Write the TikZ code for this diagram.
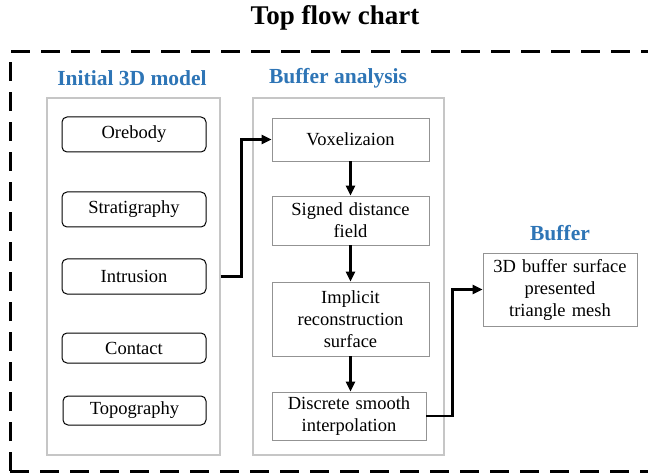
\documentclass[tikz,border=0pt]{standalone}
\usepackage{fontspec}
\setmainfont{Liberation Serif}
\usetikzlibrary{arrows.meta}
\definecolor{headblue}{RGB}{46,117,182}

\begin{document}
\begin{tikzpicture}[x=1pt, y=-1pt,
		item/.style={draw, rounded corners=5pt, line width=1pt, minimum width=144pt, minimum height=33pt, inner sep=2pt, font=\fontsize{18.5}{22}\selectfont},
		stage/.style={draw=gray!85, line width=0.8pt, text width=153pt, align=center, inner sep=2pt, font=\fontsize{18.5}{22}\selectfont},
		group/.style={draw=gray!45, line width=1.2pt, minimum width=173pt, minimum height=357pt},
		head/.style={text=headblue, font=\fontsize{21.5}{24}\selectfont\bfseries},
		flow/.style={->, line width=2.8pt}, >={Triangle[length=10pt,width=9pt]}]
					\useasboundingbox (0,0) rectangle (648,473);
					\node[font=\fontsize{27}{30}\selectfont\bfseries] (title) at (335,18) {Top flow chart};
					\draw[line width=3pt, dash pattern=on 19pt off 11pt] (10,471) -- (10,52) -- (680,52);
					\draw[line width=3pt, dash pattern=on 19pt off 11pt] (10,471) -- (680,471);
					% containers
					\node[group] (leftbox) at (133.5,276.5) {};
					\node[group, minimum width=191pt] (rightbox) at (348.5,276.5) {};
					\node[head] (modelhead) at (132,78) {Initial 3D model};
					\node[head] (analysishead) at (338,78) {Buffer analysis};
					\node[head] (bufferhead) at (560,233) {Buffer};
					% geological objects
					\node[item, minimum height=35pt] (orebody) at (134,134.5) {Orebody};
					\node[item, minimum height=35pt] (strat) at (134,209.5) {Stratigraphy};
					\node[item, minimum height=35pt] (intrusion) at (134,276.5) {Intrusion};
					\node[item, minimum height=30pt] (contact) at (134,348) {Contact};
					\node[item, minimum width=143pt, minimum height=29pt] (topo) at (134.5,410.5) {Topography};
					% buffer analysis steps
					\node[stage, minimum height=43pt] (vox) at (350.5,139.5) {Voxelizaion};
					\node[stage, minimum height=49pt] (sdf) at (350.5,220.5) {Signed distance\\field};
					\node[stage, minimum height=74pt] (irs) at (350.5,319) {Implicit\\reconstruction\\surface};
					\node[stage, text width=150pt, minimum height=48pt] (dsi) at (349,416) {Discrete smooth\\interpolation};
					\node[stage, text width=150pt, minimum height=73pt] (buffer) at (560,289.5) {3D buffer surface\\presented\\triangle mesh};
					\draw[flow] (intrusion -| leftbox.east) -- ++(21,0) |- (vox.west);
					\draw[flow] (vox) -- (sdf);
					\draw[flow] (sdf) -- (irs);
					\draw[flow] (irs.south) -- (irs.south |- dsi.north);
					\draw[flow] (dsi.east) -- ++(26,0) |- (buffer.west);
				\end{tikzpicture}
\end{document}
